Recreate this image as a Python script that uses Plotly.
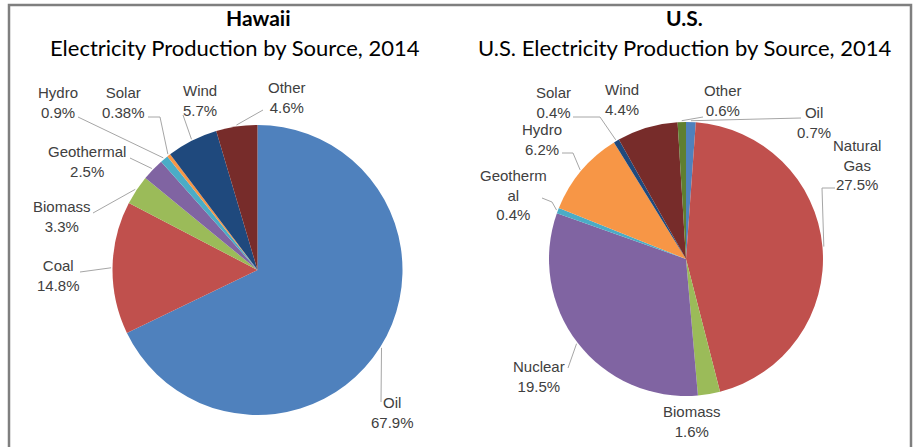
import math
import plotly.graph_objects as go

W, H = 915, 447

# ---- data ----
hi_sources = ["Oil", "Coal", "Biomass", "Geothermal", "Hydro", "Solar", "Wind", "Other"]
hi_values = [67.9, 14.8, 3.3, 2.5, 0.9, 0.38, 5.7, 4.6]
hi_text = ["67.9%", "14.8%", "3.3%", "2.5%", "0.9%", "0.38%", "5.7%", "4.6%"]
hi_colors = ["#4F81BD", "#C0504D", "#9BBB59", "#8064A2", "#4BACC6", "#F79646", "#1F497D", "#772C2A"]

us_sources = ["Oil", "Natural Gas", "Biomass", "Nuclear", "Geothermal", "Hydro", "Solar", "Wind", "Other"]
us_values = [0.7, 27.5, 1.6, 19.5, 0.4, 6.2, 0.4, 4.4, 0.6]
us_text = ["0.7%", "27.5%", "1.6%", "19.5%", "0.4%", "6.2%", "0.4%", "4.4%", "0.6%"]
us_colors = ["#4F81BD", "#C0504D", "#9BBB59", "#8064A2", "#4BACC6", "#F79646", "#1F497D", "#772C2A", "#5F7F30"]

# ---- layout (pixels) ----
hi_center, hi_r = (257.5, 270.0), 145.0
us_center, us_r = (686.0, 259.0), 137.0

# label display names, text centres and leader polylines (label side first)
hi_labels = {
    "Oil": ("Oil<br>67.9%", (392, 412), [(381, 402)]),
    "Coal": ("Coal<br>14.8%", (58, 275), [(80, 272)]),
    "Biomass": ("Biomass<br>3.3%", (62, 216), [(93, 213)]),
    "Geothermal": ("Geothermal<br>2.5%", (87, 161), [(130, 158)]),
    "Hydro": ("Hydro<br>0.9%", (58, 102), [(78, 117)]),
    "Solar": ("Solar<br>0.38%", (123, 102), [(148, 117), (160, 117)]),
    "Wind": ("Wind<br>5.7%", (200, 100), [(183, 115)]),
    "Other": ("Other<br>4.6%", (287, 98), [(263, 110)]),
}
us_labels = {
    "Oil": ("Oil<br>0.7%", (814, 122), [(801, 118)]),
    "Natural Gas": ("Natural<br>Gas<br>27.5%", (857, 165), [(835, 188), (822, 188)]),
    "Biomass": ("Biomass<br>1.6%", (692, 421), None),
    "Nuclear": ("Nuclear<br>19.5%", (539, 376), [(568, 368)]),
    "Geothermal": ("Geotherm<br>al<br>0.4%", (513, 195), [(542, 198), (552, 202)]),
    "Hydro": ("Hydro<br>6.2%", (542, 139), [(562, 153), (573, 153)]),
    "Solar": ("Solar<br>0.4%", (553, 102), [(573, 117), (600, 117)]),
    "Wind": ("Wind<br>4.4%", (622, 99), None),
    "Other": ("Other<br>0.6%", (723, 101), [(703, 117)]),
}


def px(x):
    return x / W


def py(y):
    return 1 - y / H


fig = go.Figure()


def add_pie(sources, values, colors, center, r):
    cx, cy = center
    fig.add_trace(go.Pie(
        labels=sources, values=values, sort=False, direction="clockwise",
        rotation=0, textinfo="none", hoverinfo="label+percent",
        marker=dict(colors=colors, line=dict(width=0)),
        domain=dict(x=[px(cx - r), px(cx + r)], y=[py(cy + r), py(cy - r)]),
        showlegend=False,
    ))


add_pie(hi_sources, hi_values, hi_colors, hi_center, hi_r)
add_pie(us_sources, us_values, us_colors, us_center, us_r)

annotations = []
shapes = []


def add_labels(sources, values, labels, center, r):
    cx, cy = center
    total = sum(values)
    cum = 0.0
    for s, v in zip(sources, values):
        mid = (cum + v / 2) / total * 2 * math.pi
        cum += v
        ex = cx + r * 1.01 * math.sin(mid)
        ey = cy - r * 1.01 * math.cos(mid)
        text, (tx, ty), leader = labels[s]
        annotations.append(dict(
            x=px(tx), y=py(ty), xref="paper", yref="paper", text=text,
            showarrow=False, xanchor="center", yanchor="middle",
            font=dict(family="Liberation Sans, Arial", size=15, color="#404040"),
        ))
        if leader:
            pts = leader + [(ex, ey)]
            path = "M " + " L ".join(f"{px(a)},{py(b)}" for a, b in pts)
            shapes.append(dict(type="path", xref="paper", yref="paper", path=path,
                               line=dict(color="#A6A6A6", width=1)))


add_labels(hi_sources, hi_values, hi_labels, hi_center, hi_r)
add_labels(us_sources, us_values, us_labels, us_center, us_r)

title_font = "Lato, Open Sans, sans-serif"
for x1, x2, t1, t2 in [(258, 235, "Hawaii", "Electricity Production by Source, 2014"),
                       (684, 684, "U.S.", "U.S. Electricity Production by Source, 2014")]:
    annotations.append(dict(x=px(x1), y=py(18), xref="paper", yref="paper", text=f"<b>{t1}</b>",
                            showarrow=False, xanchor="center", yanchor="middle",
                            font=dict(family=title_font, size=21, color="#000000")))
    annotations.append(dict(x=px(x2), y=py(48), xref="paper", yref="paper", text=t2,
                            showarrow=False, xanchor="center", yanchor="middle",
                            font=dict(family=title_font, size=22, color="#000000")))

# outer frame
shapes.append(dict(type="rect", xref="paper", yref="paper", x0=px(9), x1=px(911),
                   y0=py(460), y1=py(5), line=dict(color="#7F7F7F", width=2.5)))

fig.update_layout(
    width=W, height=H, margin=dict(l=0, r=0, t=0, b=0),
    paper_bgcolor="white", plot_bgcolor="white",
    annotations=annotations, shapes=shapes,
)

fig.write_html("out.html", config={"displayModeBar": False},
               post_script="document.body.style.margin='0';")
